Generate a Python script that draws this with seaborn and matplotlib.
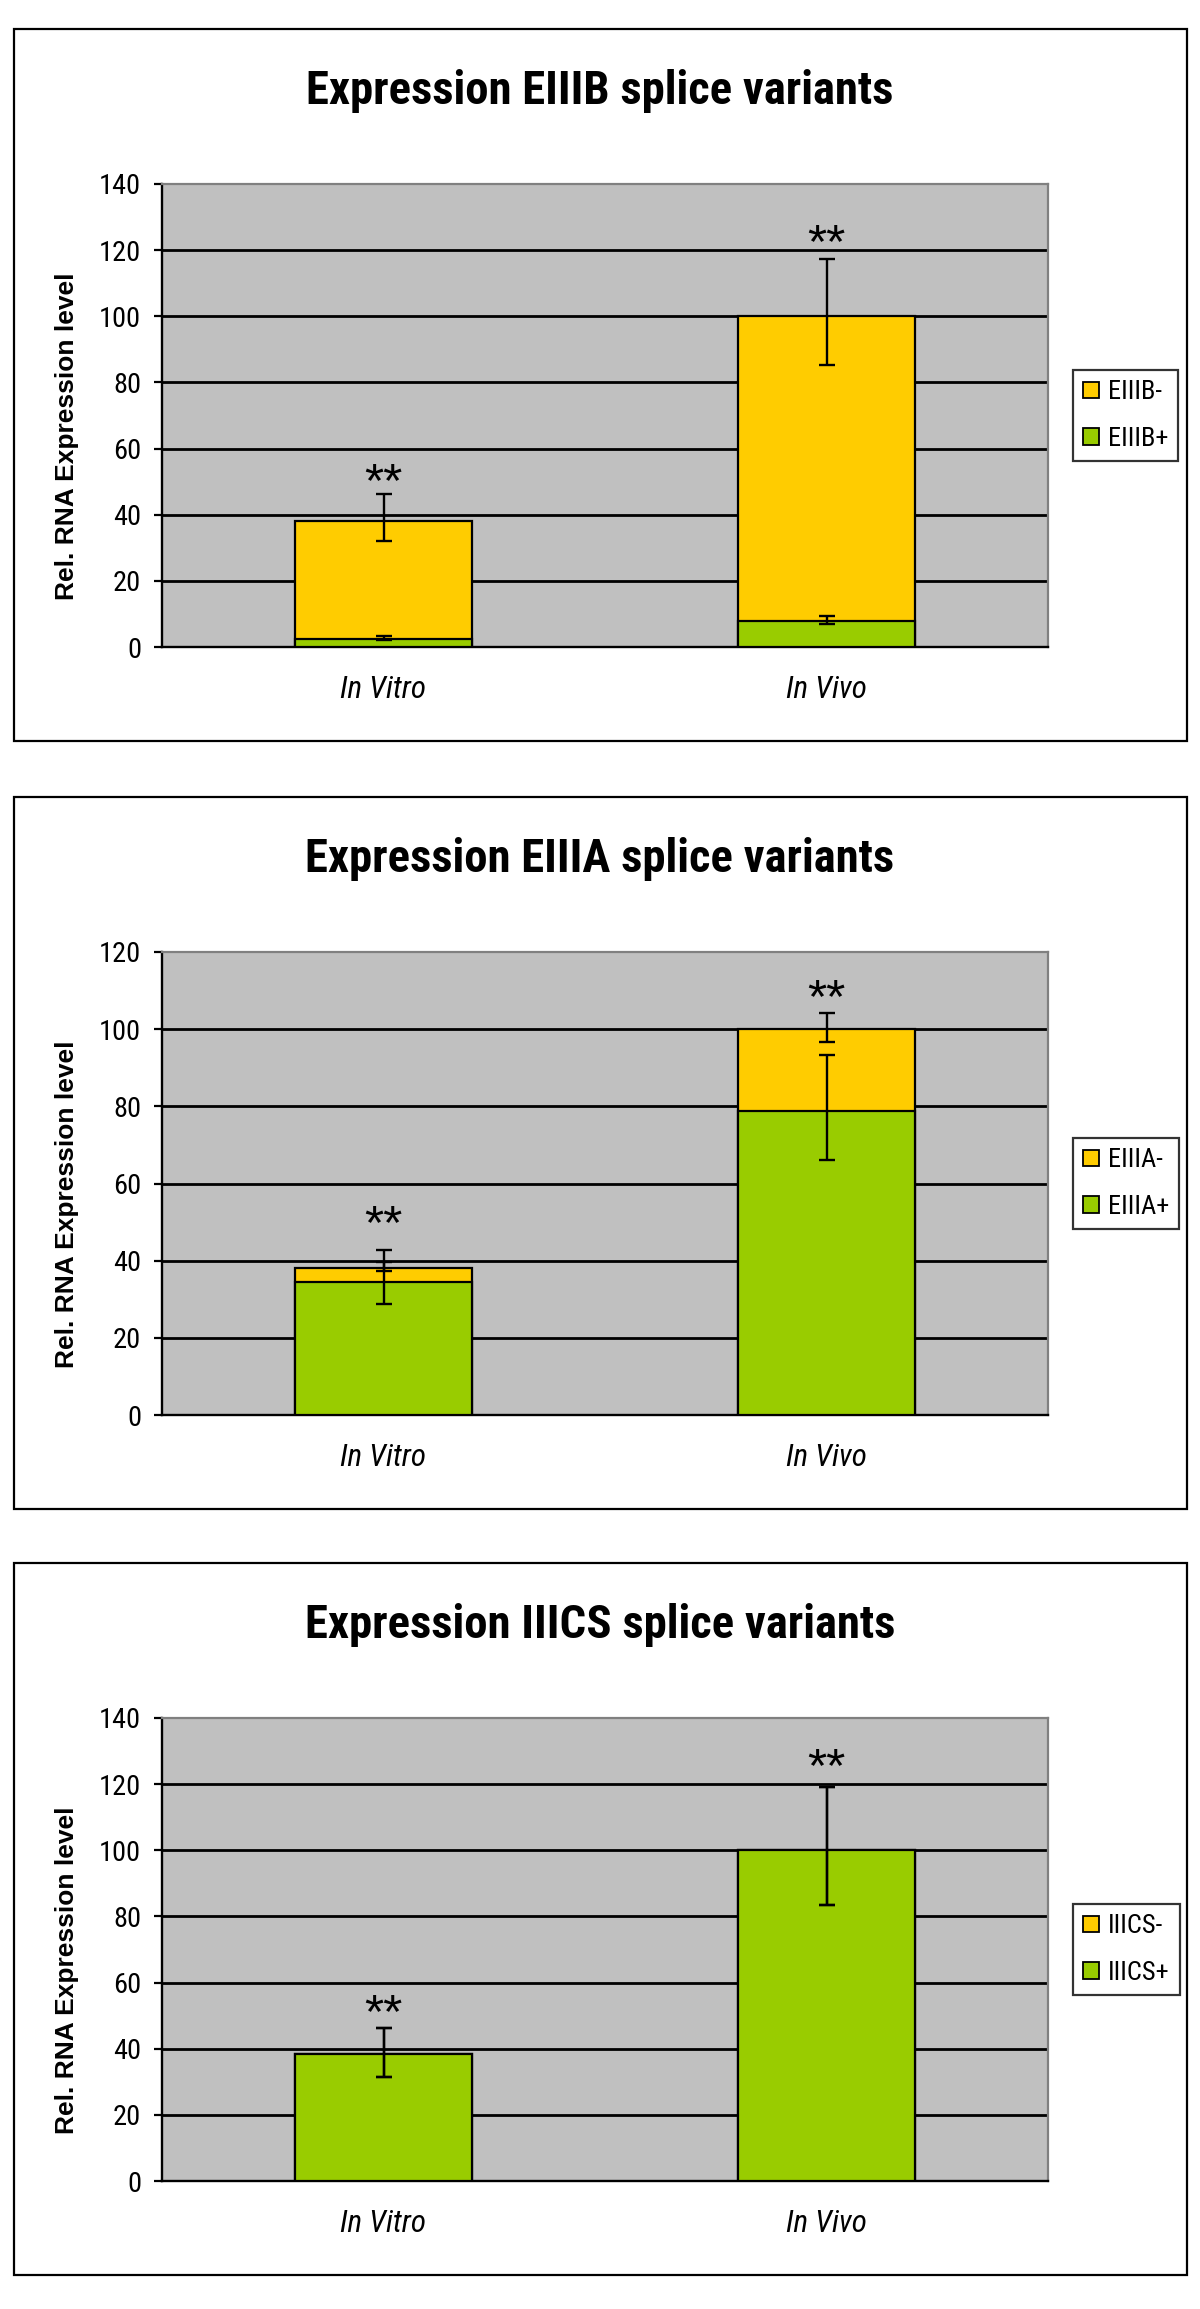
import numpy as np
import pandas as pd
import matplotlib
matplotlib.use("Agg")
import matplotlib.pyplot as plt
import seaborn as sns
from matplotlib.patches import Rectangle, Patch
from matplotlib import font_manager

# ---------------- data ----------------
categories = ["In Vitro", "In Vivo"]

titles = ["Expression EIIIB splice variants",
          "Expression EIIIA splice variants",
          "Expression IIICS splice variants"]
minus_labels = ["EIIIB-", "EIIIA-", "IIICS-"]
plus_labels = ["EIIIB+", "EIIIA+", "IIICS+"]
y_max = [140, 120, 140]
star_text = "**"

# EIIIB
eiiib_plus = [2.5, 8.0]
eiiib_minus = [35.7, 92.0]
eiiib_plus_err_low = [2.0, 7.0]
eiiib_plus_err_high = [3.2, 9.3]
eiiib_total_err_low = [32.1, 85.2]
eiiib_total_err_high = [46.2, 117.3]
eiiib_star_y = [52.3, 124.6]

# EIIIA
eiiia_plus = [34.6, 78.8]
eiiia_minus = [3.6, 21.2]
eiiia_plus_err_low = [28.8, 66.0]
eiiia_plus_err_high = [39.6, 93.4]
eiiia_total_err_low = [37.4, 96.8]
eiiia_total_err_high = [42.8, 104.2]
eiiia_star_y = [51.7, 110.1]

# IIICS
iiics_plus = [38.5, 100.0]
iiics_minus = [0.0, 0.0]
iiics_plus_err_low = [31.4, 83.6]
iiics_plus_err_high = [46.2, 119.1]
iiics_total_err_low = [31.4, 83.6]
iiics_total_err_high = [46.2, 119.1]
iiics_star_y = [53.3, 127.7]

panels = [
    (eiiib_plus, eiiib_minus, eiiib_plus_err_low, eiiib_plus_err_high,
     eiiib_total_err_low, eiiib_total_err_high, eiiib_star_y),
    (eiiia_plus, eiiia_minus, eiiia_plus_err_low, eiiia_plus_err_high,
     eiiia_total_err_low, eiiia_total_err_high, eiiia_star_y),
    (iiics_plus, iiics_minus, iiics_plus_err_low, iiics_plus_err_high,
     iiics_total_err_low, iiics_total_err_high, iiics_star_y),
]

# ---------------- style ----------------
YELLOW = "#FFCC00"
GREEN = "#99CC00"
PLOT_BG = "#C0C0C0"

sns.set_style("white")

entries = font_manager.fontManager.ttflist
names = {f.name for f in entries}
REG = "Liberation Sans" if "Liberation Sans" in names else "DejaVu Sans"
NARROW = REG
NARROW_STRETCH = "normal"
for cand in ["Liberation Sans Narrow", "Arial Narrow", "Roboto Condensed",
             "Open Sans Condensed", "Noto Sans Condensed",
             "DejaVu Sans Condensed", "Noto Sans SemiCondensed",
             "Open Sans SemiCondensed"]:
    if cand in names:
        NARROW = cand
        break
else:
    for f in entries:
        st = str(f.stretch).lower()
        if ("condensed" in st or "narrow" in st) and any(
                k in f.name for k in ["Liberation", "DejaVu Sans", "Noto Sans", "Roboto", "Open Sans", "Lato", "Inter"]) \
                and "Mono" not in f.name and "CJK" not in f.name:
            NARROW = f.name
            NARROW_STRETCH = f.stretch
            break

plt.rcParams["font.family"] = [REG, "DejaVu Sans"]
for k in ["text.color", "axes.labelcolor", "xtick.color", "ytick.color"]:
    plt.rcParams[k] = "black"

W, H = 1200, 2309
fig = plt.figure(figsize=(W / 100, H / 100), dpi=100)
fig.patch.set_facecolor("white")
renderer = fig.canvas.get_renderer()


def fit_size(text, family, target_px, weight="normal", style="normal",
             stretch="normal", base=20.0):
    t = fig.text(0, 0, text, fontsize=base, family=[family, "DejaVu Sans"],
                 fontweight=weight, style=style, fontstretch=stretch)
    w = t.get_window_extent(renderer).width
    t.remove()
    return base * target_px / w


title_fs = min(36, fit_size(titles[0], NARROW, 587, weight="bold", stretch=NARROW_STRETCH))
xtick_fs = min(24, fit_size("In Vitro", NARROW, 86, style="italic", stretch=NARROW_STRETCH))
ytick_fs = min(21, fit_size("100", NARROW, 42, stretch=NARROW_STRETCH))
leg_fs = min(19, fit_size("EIIIB-", NARROW, 54, stretch=NARROW_STRETCH))
star_fs = min(38, fit_size(star_text, REG, 38))

frame_tops = [29, 797, 1563]
frame_h = 712
frame_x0, frame_x1 = 14, 1187
ax_x0, ax_x1 = 162, 1048
ax_top_off, ax_h = 155, 463
title_base_off = 75

for i, (plus, minus, p_lo, p_hi, t_lo, t_hi, star_y) in enumerate(panels):
    ft = frame_tops[i]
    fig.add_artist(Rectangle((frame_x0 / W, 1 - (ft + frame_h) / H),
                             (frame_x1 - frame_x0) / W, frame_h / H,
                             transform=fig.transFigure, fill=False,
                             edgecolor="black", linewidth=1.6, zorder=0))
    fig.text(0.5, 1 - (ft + title_base_off) / H, titles[i], ha="center",
             va="baseline", fontsize=title_fs, fontweight="bold",
             family=[NARROW, "DejaVu Sans"], fontstretch=NARROW_STRETCH,
             color="black")

    ax_top = ft + ax_top_off
    ax = fig.add_axes([ax_x0 / W, 1 - (ax_top + ax_h) / H,
                       (ax_x1 - ax_x0) / W, ax_h / H])
    ax.set_facecolor(PLOT_BG)

    total = [p + m for p, m in zip(plus, minus)]
    df = pd.DataFrame({"cat": categories, "total": total, "plus": plus})

    sns.barplot(data=df, x="cat", y="total", color=YELLOW, saturation=1,
                width=0.4, edgecolor="black", linewidth=1.6, errorbar=None,
                ax=ax, zorder=3)
    sns.barplot(data=df, x="cat", y="plus", color=GREEN, saturation=1,
                width=0.4, edgecolor="black", linewidth=1.6, errorbar=None,
                ax=ax, zorder=3)

    xs = np.arange(len(categories))
    plus_a = np.array(plus)
    total_a = np.array(total)
    ax.errorbar(xs, plus_a, yerr=[plus_a - np.array(p_lo), np.array(p_hi) - plus_a],
                fmt="none", ecolor="black", elinewidth=1.7, capsize=6,
                capthick=1.7, zorder=5)
    ax.errorbar(xs, total_a, yerr=[total_a - np.array(t_lo), np.array(t_hi) - total_a],
                fmt="none", ecolor="black", elinewidth=1.7, capsize=6,
                capthick=1.7, zorder=5)

    for x, sy in zip(xs, star_y):
        ax.annotate(star_text, (x, sy), xytext=(0, -0.45 * star_fs),
                    textcoords="offset points", ha="center", va="baseline",
                    fontsize=star_fs, family=[REG, "DejaVu Sans"], zorder=6,
                    color="black")

    ax.set_xlim(-0.5, 1.5)
    ax.set_ylim(0, y_max[i])
    ax.set_yticks(np.arange(0, y_max[i] + 1, 20))
    ax.set_xticks(xs)
    ax.set_xticklabels(categories)
    ax.set_xticks([-0.5, 0.5, 1.5], minor=True)
    ax.set_xlabel("")
    ax.set_ylabel("Rel. RNA Expression level", fontsize=19, fontweight="bold",
                  family=[REG, "DejaVu Sans"], color="black")
    ax.yaxis.set_label_coords(-0.094, 0.455)

    ax.set_axisbelow(True)
    ax.yaxis.grid(True, color="black", linewidth=2.0)
    ax.xaxis.grid(False)
    gl = ax.get_ygridlines()
    gl[-1].set_visible(False)

    ax.tick_params(axis="x", which="major", length=0, pad=20, labelsize=xtick_fs)
    ax.tick_params(axis="x", which="minor", direction="out", length=6,
                   width=1.6, color="black")
    ax.tick_params(axis="y", direction="out", length=6, width=1.6,
                   color="black", pad=9, labelsize=ytick_fs, left=True)
    for lab in ax.get_xticklabels():
        lab.set_family([NARROW, "DejaVu Sans"])
        lab.set_fontstretch(NARROW_STRETCH)
        lab.set_style("italic")
        lab.set_color("black")
    for lab in ax.get_yticklabels():
        lab.set_family([NARROW, "DejaVu Sans"])
        lab.set_fontstretch(NARROW_STRETCH)
        lab.set_color("black")

    for side in ["left", "bottom"]:
        ax.spines[side].set_color("black")
        ax.spines[side].set_linewidth(1.7)
        ax.spines[side].set_visible(True)
    for side in ["top", "right"]:
        ax.spines[side].set_color("#808080")
        ax.spines[side].set_linewidth(1.6)
        ax.spines[side].set_visible(True)

    handles = [Patch(facecolor=YELLOW, edgecolor="black", linewidth=1.3),
               Patch(facecolor=GREEN, edgecolor="black", linewidth=1.3)]
    leg = ax.legend(handles, [minus_labels[i], plus_labels[i]],
                    loc="center left", bbox_to_anchor=(1.028, 0.5),
                    borderaxespad=0, frameon=True, fancybox=False,
                    handlelength=0.6, handleheight=0.6, handletextpad=0.35,
                    labelspacing=0.85, borderpad=0.38,
                    prop={"family": [NARROW, "DejaVu Sans"], "size": leg_fs,
                          "stretch": NARROW_STRETCH})
    for t in leg.get_texts():
        t.set_color("black")
    leg.get_frame().set_edgecolor("black")
    leg.get_frame().set_linewidth(1.6)
    leg.get_frame().set_facecolor("white")

fig.savefig("out.png", dpi=100, facecolor="white")
